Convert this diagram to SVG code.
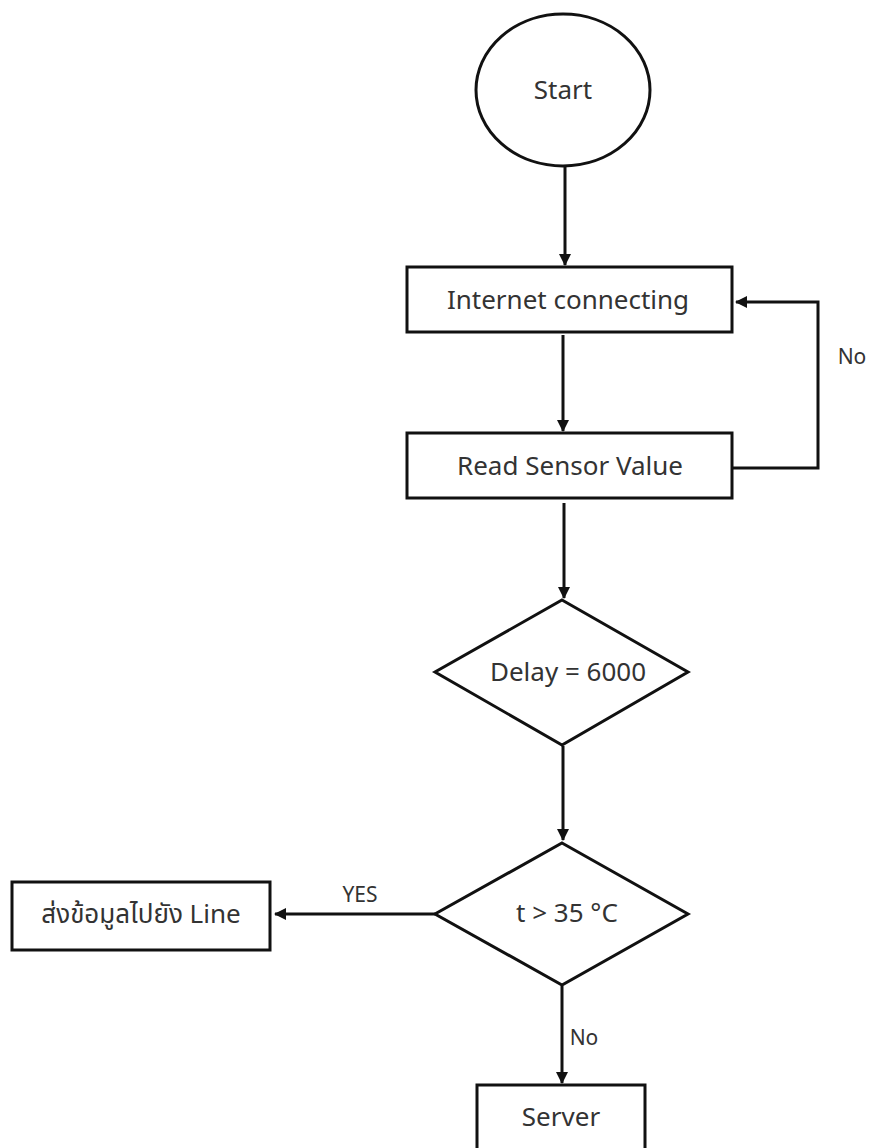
<svg xmlns="http://www.w3.org/2000/svg" width="869" height="1148" viewBox="0 0 869 1148">
<defs>
<marker id="ah" markerWidth="12" markerHeight="12" refX="11" refY="6" orient="auto" markerUnits="userSpaceOnUse">
<path d="M0,0 L12,6 L0,12 z" fill="#111"/>
</marker>
<style>
.s{fill:#fff;stroke:#111;stroke-width:3}
.t{font-family:"Noto Sans","Open Sans","Noto Sans Thai","DejaVu Sans",sans-serif;font-size:26px;fill:#333;text-anchor:middle}
.l{font-family:"Noto Sans","Open Sans","DejaVu Sans",sans-serif;font-size:21px;fill:#333;text-anchor:middle}
.c{fill:none;stroke:#111;stroke-width:3;marker-end:url(#ah)}
</style>
</defs>
<rect width="869" height="1148" fill="#fff"/>
<g id="connectors">
<line class="c" x1="565" y1="166" x2="565" y2="265"/>
<line class="c" x1="563" y1="335" x2="563" y2="431"/>
<polyline class="c" points="732,468 818,468 818,302 736,302"/>
<line class="c" x1="564" y1="503" x2="564" y2="598"/>
<line class="c" x1="563" y1="746" x2="563" y2="840"/>
<line class="c" x1="435" y1="914" x2="275" y2="914"/>
<line class="c" x1="562" y1="986" x2="562" y2="1083"/>
<text class="l" x="852" y="364">No</text>
<text class="l" x="360" y="902">YES</text>
<text class="l" x="584" y="1045">No</text>
</g>
<g id="start">
<ellipse class="s" cx="563" cy="90" rx="87" ry="76"/>
<text class="t" x="563" y="99">Start</text>
</g>
<g id="internet">
<rect class="s" x="407" y="267" width="325" height="65"/>
<text class="t" x="568" y="309">Internet connecting</text>
</g>
<g id="read">
<rect class="s" x="407" y="433" width="325" height="65"/>
<text class="t" x="570" y="475">Read Sensor Value</text>
</g>
<g id="delay">
<polygon class="s" points="562,600 688,672 562,745 435,672"/>
<text class="t" x="568" y="681">Delay = 6000</text>
</g>
<g id="temp">
<polygon class="s" points="562,843 688,914 562,985 435,914"/>
<text class="t" x="567" y="922">t &gt; 35 °C</text>
</g>
<g id="line">
<rect class="s" x="12" y="882" width="258" height="68"/>
<text class="t" x="141" y="923">ส่งข้อมูลไปยัง Line</text>
</g>
<g id="server">
<rect class="s" x="477" y="1085" width="168" height="70"/>
<text class="t" x="561" y="1126">Server</text>
</g>
</svg>
